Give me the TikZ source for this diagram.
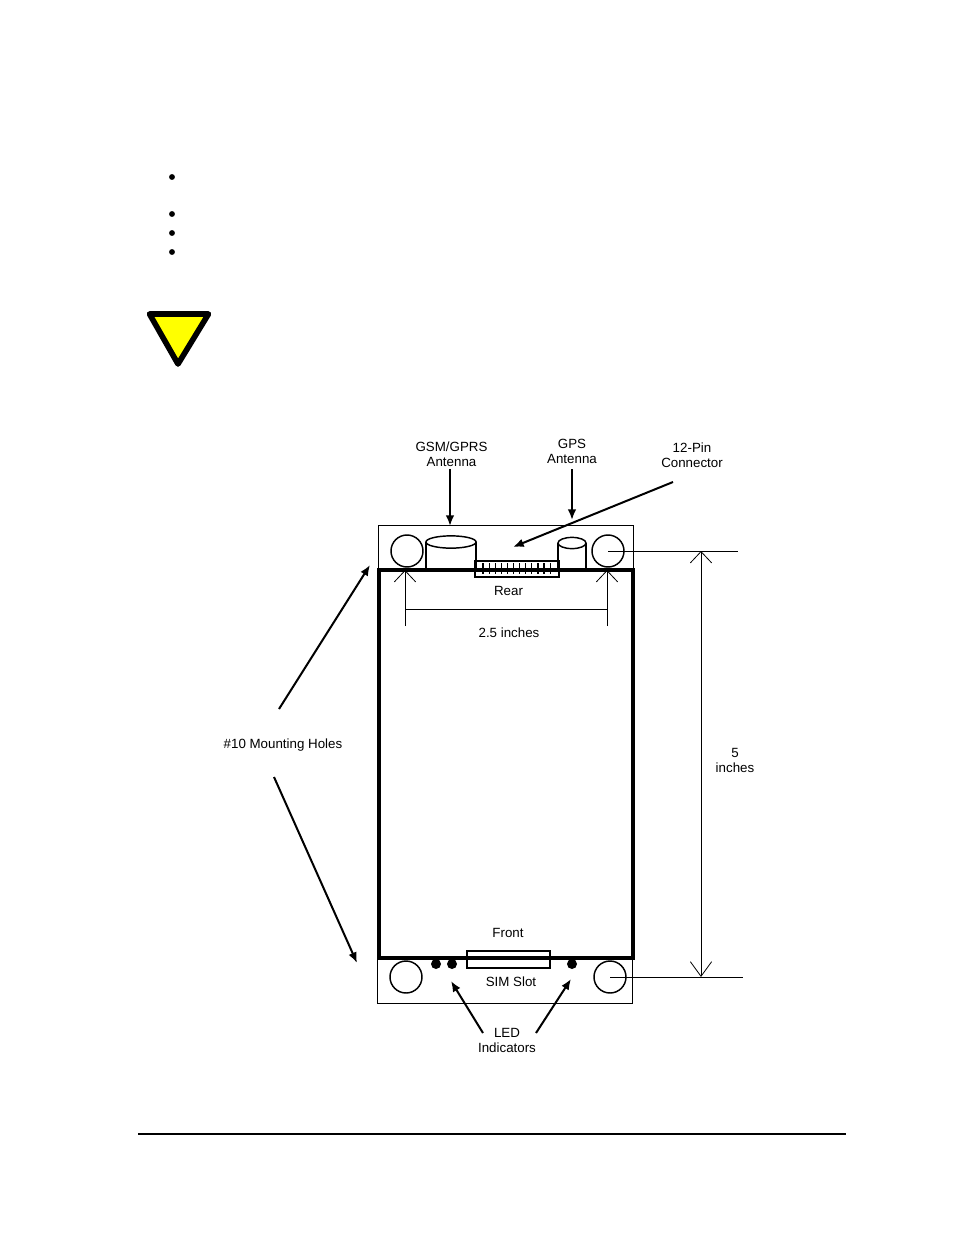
\documentclass[tikz,border=0pt]{standalone}
\usepackage{fontspec}
\setmainfont{Liberation Sans}
\usetikzlibrary{arrows.meta}

\definecolor{warnyellow}{RGB}{255,255,0}

\tikzset{
	label/.style={inner sep=0pt, align=center, font=\fontsize{10}{11.25}\selectfont},
	hole/.style={draw, circle, line width=1.1pt, inner sep=0pt, minimum size=24pt},
	led/.style={fill, circle, inner sep=0pt, minimum size=7.5pt},
	callout/.style={line width=1.5pt, -{Latex[length=8pt,width=6.5pt]}},
	dimline/.style={line width=0.6pt, {Straight Barb[length=8.5pt,width=16pt]}-{Straight Barb[length=11pt,width=16pt]}},
	witness/.style={line width=0.6pt}
}

\begin{document}
\begin{tikzpicture}[x=0.75pt, y=-0.75pt]
	\useasboundingbox (0,0) rectangle (954,1235);

	% page bullets, warning sign, footer rule
	\foreach \y in {177,214,233,252}
	  \fill (172,\y) circle (2.2pt);
	\filldraw [fill=warnyellow, line width=4.2pt, line join=round] (149.5,314) -- (208.5,314) -- (178,364) -- cycle;
	\draw[line width=1.5pt] (138,1134) -- (846,1134);

	% rear and front panels
	\draw[witness] (378,570) rectangle (633,525);
	\draw[witness] (377,958) rectangle (632,1003);
	\draw[line width=3pt] (379,570) rectangle (632.5,958);

	% antennas
	\draw[line width=1.1pt] (426,570) -- (426,542) (476,570) -- (476,542);
	\draw[line width=1.1pt] (451,542) ellipse [x radius=18.8pt, y radius=4.6pt];
	\draw[line width=1.1pt] (558,570) -- (558,543) (586,570) -- (586,543);
	\draw[line width=1.1pt] (572,543) ellipse [x radius=10.5pt, y radius=4.2pt];

	% 12 pin connector, SIM slot
	\draw[line width=1.1pt] (475,561) rectangle (559,577);
	\foreach \p in {0,...,11}
	  \draw[line width=0.9pt] (483+\p*6.1,563) -- (483+\p*6.1,574);
	\draw[line width=1.1pt] (467,951) rectangle (550,968);

	% mounting holes
	\node[hole] (holeTL) at (407,551) {};
	\node[hole] (holeTR) at (608,551) {};
	\node[hole] (holeBL) at (406,977) {};
	\node[hole] (holeBR) at (610,977) {};

	% leds
	\node[led] (ledA) at (436,964) {};
	\node[led] (ledB) at (452,964) {};
	\node[led] (ledC) at (572,964) {};

	% labels
	\node[label] (gsm) at (451.5,454.5) {GSM/GPRS\\Antenna};
	\node[label] (gps) at (572,451.5) {GPS\\Antenna};
	\node[label] (pin) at (692,455.5) {12-Pin\\Connector};
	\node[label] (rear) at (508.5,591) {Rear};
	\node[label] (wide) at (509,633) {2.5 inches};
	\node[label] (tall) at (735,760.5) {5\\inches};
	\node[label] (holes) at (283,745) {\#10 Mounting Holes};
	\node[label] (front) at (508,933) {Front};
	\node[label] (sim) at (511,982) {SIM Slot};
	\node[label] (leds) at (507,1040.5) {LED\\Indicators};

	% free ends of the callouts
	\coordinate (gsmTail) at (450,469);
	\coordinate (gsmTip) at (450,526);
	\coordinate (gpsTail) at (572,469);
	\coordinate (gpsTip) at (572,520);
	\coordinate (pinTail) at (673,482);
	\coordinate (pinTip) at (513,547);
	\coordinate (upTail) at (279,709);
	\coordinate (upTip) at (370,565);
	\coordinate (downTail) at (274,777);
	\coordinate (downTip) at (357,963);
	\coordinate (ledLTail) at (483,1033);
	\coordinate (ledLTip) at (451,981);
	\coordinate (ledRTail) at (536,1033);
	\coordinate (ledRTip) at (571,979);

	\draw[callout] (gsmTail) -- (gsmTip);
	\draw[callout] (gpsTail) -- (gpsTip);
	\draw[callout] (pinTail) -- (pinTip);
	\draw[callout] (upTail) -- (upTip);
	\draw[callout] (downTail) -- (downTip);
	\draw[callout] (ledLTail) -- (ledLTip);
	\draw[callout] (ledRTail) -- (ledRTip);

	% dimensions
	\coordinate (wideL) at (405,570);
	\coordinate (wideR) at (607,570);
	\coordinate (wideLEnd) at (405,626);
	\coordinate (wideREnd) at (607,626);
	\coordinate (wideLMid) at (405,609);
	\coordinate (wideRMid) at (607,609);
	\coordinate (tallT) at (701,551);
	\coordinate (tallB) at (701,977);
	\coordinate (tallTEnd) at (738,551);
	\coordinate (tallBEnd) at (743,977);

	\draw[witness, -{Straight Barb[length=8.5pt,width=16pt]}] (wideLEnd) -- (wideL);
	\draw[witness, -{Straight Barb[length=8.5pt,width=16pt]}] (wideREnd) -- (wideR);
	\draw[witness] (wideLMid) -- (wideRMid);
	\draw[dimline] (tallT) -- (tallB);
	\draw[witness] (holeTR.center) -- (tallTEnd);
	\draw[witness] (holeBR.center) -- (tallBEnd);
\end{tikzpicture}
\end{document}
